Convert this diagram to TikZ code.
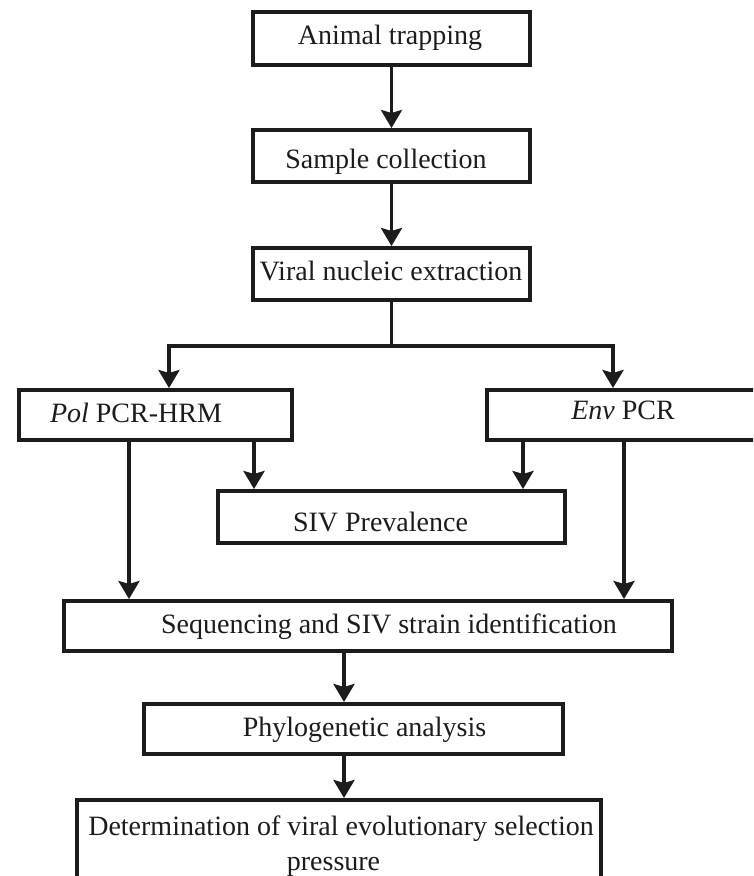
\documentclass[tikz,border=0pt]{standalone}
\usepackage{fontspec}
\setmainfont{Liberation Serif}
\usetikzlibrary{arrows.meta}
\definecolor{ink}{RGB}{28,28,28}
\begin{document}
\begin{tikzpicture}[x=1pt,y=-1pt,
  box/.style={draw=ink, line width=4pt, fill=white, inner sep=0pt, rectangle},
  txt/.style={font=\fontsize{28}{34}\selectfont, text=ink, inner sep=0pt, anchor=base},
  ln/.style={draw=ink, line width=3.5pt},
  arr/.style={ln, -{Stealth[length=18pt,width=21pt,inset=3pt]}}]
\useasboundingbox (0,0) rectangle (753,876);
\fill[white] (0,0) rectangle (753,876);
\clip (0,0) rectangle (753,876);
% boxes
\node[box, minimum width=277pt, minimum height=53pt] (A) at (391.5,38.5) {};
\node[box, minimum width=277pt, minimum height=52pt] (S) at (391.5,156) {};
\node[box, minimum width=277pt, minimum height=52pt] (V) at (391.5,274) {};
\node[box, minimum width=273pt, minimum height=50pt] (P) at (155.5,415) {};
\node[box, minimum width=281pt, minimum height=50pt] (E) at (627.5,415) {};
\node[box, minimum width=347pt, minimum height=52pt] (SIV) at (391.5,517) {};
\node[box, minimum width=608pt, minimum height=50pt] (Seq) at (368,626) {};
\node[box, minimum width=419pt, minimum height=50pt] (Phy) at (353.5,729) {};
\node[box, minimum width=524pt, minimum height=118pt] (Det) at (339,859) {};
% texts
\node[txt] (tA) at (390,44) {Animal trapping};
\node[txt] (tS) at (386,168) {Sample collection};
\node[txt] (tV) at (391,280) {Viral nucleic extraction};
\node[txt] (tP) at (136,422) {\textit{Pol} PCR-HRM};
\node[txt] (tE) at (623,419) {\textit{Env} PCR};
\node[txt] (tSIV) at (380.5,531) {SIV Prevalence};
\node[txt] (tSeq) at (389,633) {Sequencing and SIV strain identification};
\node[txt] (tPhy) at (364.5,736) {Phylogenetic analysis};
\node[txt] (tD1) at (341,835) {Determination of viral evolutionary selection};
\node[txt] (tD2) at (333.5,870) {pressure};
% junction coordinates
\coordinate (jl) at (169,346);
\coordinate (jr) at (613,346);
\coordinate (pa) at (129,0);
\coordinate (pb) at (254,0);
\coordinate (ea) at (523,0);
\coordinate (eb) at (624,0);
\coordinate (mc) at (344,0);
% connectors
\draw[arr] (A) -- (S);
\draw[arr] (S) -- (V);
\draw[arr] (V.south) -- (V.south |- jl) -| (jl |- P.north);
\draw[arr] (V.south |- jr) -| (jr |- E.north);
\draw[arr] (P.south -| pa) -- (Seq.north -| pa);
\draw[arr] (P.south -| pb) -- (SIV.north -| pb);
\draw[arr] (E.south -| ea) -- (SIV.north -| ea);
\draw[arr] (E.south -| eb) -- (Seq.north -| eb);
\draw[arr] (Seq.south -| mc) -- (Phy.north -| mc);
\draw[arr] (Phy.south -| mc) -- (Det.north -| mc);
\end{tikzpicture}
\end{document}
